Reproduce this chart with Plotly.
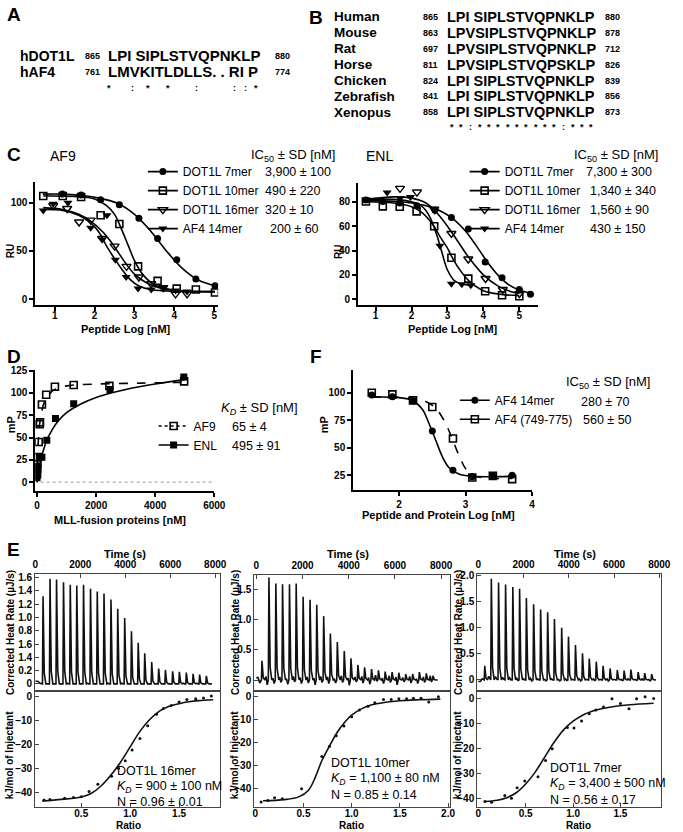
import plotly.graph_objects as go

W, H = 683, 832
ARIAL = "Liberation Sans, Arial, sans-serif"
NARROW = "Liberation Sans Narrow, Arial Narrow, Liberation Sans, sans-serif"


def px(x):
    return x / W


def py(y):
    return 1 - y / H


# --- A / B : sequence alignments ---
a_names = ["hDOT1L", "hAF4"]
a_start = ["865", "761"]
a_seq = ["LPI SIPLSTVQPNKLP", "LMVKITLDLLS. . RI P"]
a_end = ["880", "774"]
a_cons = ["*", ":", "*", "*", ":", ":", ":", "*"]
a_cons_x = [108, 132, 148, 169, 198, 237, 248, 259]

b_names = ["Human", "Mouse", "Rat", "Horse", "Chicken", "Zebrafish", "Xenopus"]
b_start = ["865", "863", "697", "811", "824", "841", "858"]
b_seq = ["LPI SIPLSTVQPNKLP", "LPVSIPLSTVQPNKLP", "LPVSIPLSTVQPNKLP", "LPVSIPLSTVQPSKLP",
         "LPI SIPLSTVQPNKLP", "LPI SIPLSTVQPNKLP", "LPI SIPLSTVQPNKLP"]
b_end = ["880", "878", "712", "826", "839", "856", "873"]
b_cons = ["*", "*", ":", "*", "*", "*", "*", "*", "*", "*", "*", "*", ":", "*", "*", "*"]

# --- C : AF9 competition (log nM vs RU) ---
af9_7_x = [1.19, 1.66, 2.15, 2.62, 3.11, 3.58, 4.06, 4.54, 5.02]
af9_7_y = [109, 108, 103, 98, 84, 63, 41, 21, 14]
af9_7_fx = [0.7, 1.2, 1.8, 2.2, 2.6, 3.0, 3.4, 3.8, 4.2, 4.6, 5.02]
af9_7_fy = [109, 109, 107, 104, 99, 88, 71, 50, 32, 20, 14]
af9_10_x = [0.71, 1.2, 1.66, 2.15, 2.62, 3.09, 3.58, 4.06, 4.54, 5.02]
af9_10_y = [107, 107, 106, 87, 78, 34, 19, 11, 10, 7]
af9_10_fx = [0.71, 1.5, 2.0, 2.3, 2.5, 2.7, 2.85, 3.0, 3.2, 3.5, 3.9, 4.5, 5.02]
af9_10_fy = [107, 106.5, 104, 97, 88, 70, 55, 40, 26, 15, 10, 8, 7.5]
af9_16_x = [0.96, 1.31, 1.61, 1.9, 2.19, 2.5, 2.8, 3.11, 3.42, 3.72, 4.03, 4.32]
af9_16_y = [97, 94, 80, 82, 63, 55, 34, 23, 16, 12, 5.5, 5.5]
af9_16_fx = [0.71, 1.2, 1.6, 1.9, 2.2, 2.4, 2.6, 2.8, 3.0, 3.3, 3.7, 4.2, 5.02]
af9_16_fy = [95, 93, 88, 81, 70, 60, 48, 36, 26, 17, 11, 8.5, 8]
af9_af4_x = [0.71, 0.96, 1.33, 1.9, 2.19, 2.31, 2.52, 2.79, 3.09, 3.42, 3.72, 4.03, 4.32]
af9_af4_y = [92, 99, 100, 74, 62, 87, 41, 23, 11, 10, 12, 9, 8]
af9_af4_fx = [0.71, 1.2, 1.6, 1.9, 2.1, 2.3, 2.5, 2.7, 2.9, 3.1, 3.4, 3.8, 4.32, 5.02]
af9_af4_fy = [93, 92, 87, 79, 70, 55, 42, 30, 20, 14, 10, 8.5, 8, 8]

# --- C : ENL competition ---
enl_7_x = [0.73, 1.2, 1.67, 2.15, 2.65, 3.11, 3.58, 4.05, 4.52, 5.0, 5.31]
enl_7_y = [81.4, 80.3, 79, 76.7, 73.2, 67.2, 57.7, 30.5, 17.7, 7.9, 4.1]
enl_7_fx = [0.73, 1.5, 2.0, 2.5, 2.9, 3.2, 3.5, 3.8, 4.1, 4.4, 4.7, 5.0, 5.31]
enl_7_fy = [81, 80.5, 79, 76, 71, 65, 56, 44, 31, 20, 12, 7.5, 5]
enl_10_x = [0.73, 1.2, 1.67, 2.14, 2.63, 3.11, 3.58, 4.05, 4.52, 5.0]
enl_10_y = [80.3, 76.2, 75.9, 72.1, 59.9, 34, 16.9, 6.5, 3.3, 2.4]
enl_10_fx = [0.73, 1.5, 2.0, 2.3, 2.6, 2.8, 3.0, 3.1, 3.3, 3.6, 4.0, 4.5, 5.0]
enl_10_fy = [80, 79, 76, 71, 61, 51, 42, 36, 26, 15, 7, 4, 3]
enl_16_x = [1.68, 2.15, 2.63, 3.11, 3.58, 4.06, 4.54, 5.0]
enl_16_y = [91, 88, 74, 54, 33, 17, 8, 4.6]
enl_16_fx = [0.73, 1.5, 2.0, 2.4, 2.7, 3.0, 3.3, 3.6, 4.0, 4.4, 4.8, 5.0]
enl_16_fy = [82, 84, 83, 79, 71, 60, 47, 34, 20, 11, 6, 5]
enl_af4_x = [1.32, 1.68, 1.97, 2.65, 2.79, 3.11, 3.4, 3.65]
enl_af4_y = [87.6, 83, 84, 72.6, 44, 12.8, 12.2, 11.4]
enl_af4_fx = [0.73, 1.5, 2.0, 2.3, 2.5, 2.7, 2.85, 3.0, 3.2, 3.4, 3.65]
enl_af4_fy = [82, 82, 80, 76, 68, 53, 38, 24, 15, 12.5, 11.5]

# --- D : direct binding (nM vs mP) ---
d_af9_x = [0, 5, 10, 20, 55, 88, 100, 165, 310, 605, 1240, 2450, 4980]
d_af9_y = [9, 15, 20, 28, 45, 65, 67, 87, 98, 107, 109, 108, 113]
d_af9_fx = [0, 20, 50, 100, 150, 250, 400, 600, 1000, 2000, 3500, 5000]
d_af9_fy = [0, 27, 50, 68, 78, 90, 98, 104, 108, 110, 111, 112]
d_enl_x = [0, 10, 20, 75, 165, 330, 625, 1240, 2470, 4970]
d_enl_y = [5, 11, 18, 28, 28, 47, 71.5, 88, 104, 118]
d_enl_fx = [0, 50, 100, 200, 330, 500, 700, 1000, 1500, 2000, 2500, 3000, 4000, 5000]
d_enl_fy = [0, 11, 20, 34, 47, 58, 68, 78, 88, 95, 100, 104, 110, 115]

# --- F : AF4 competition ---
f_14_x = [1.59, 1.9, 2.21, 2.5, 2.81, 3.1, 3.41, 3.7]
f_14_y = [97.9, 96.4, 92.4, 65.2, 29.5, 23.5, 24.4, 25]
f_14_fx = [1.59, 2.0, 2.2, 2.35, 2.45, 2.55, 2.65, 2.75, 2.9, 3.1, 3.7]
f_14_fy = [96, 95.5, 93, 85, 72, 57, 42, 32, 26, 24, 24]
f_long_x = [1.59, 1.9, 2.21, 2.5, 2.81, 3.1, 3.41, 3.7]
f_long_y = [100, 98.5, 93, 87, 58.3, 22.9, 24.4, 21.4]
f_long_fx = [1.59, 2.2, 2.4, 2.55, 2.7, 2.8, 2.9, 3.0, 3.1, 3.3, 3.7]
f_long_fy = [96, 95, 92, 86, 72, 58, 43, 31, 25, 22.5, 22]

# --- E : ITC thermograms (time s, heat rate) ---
e1_t = [320, 630, 920, 1230, 1530, 1820, 2120, 2430, 2730, 3030, 3340, 3640, 3950,
        4250, 4550, 4840, 5150, 5460, 5760, 6080, 6380, 6690, 6990, 7280, 7580]
e1_h = [1.32, 1.58, 1.57, 1.53, 1.49, 1.48, 1.49, 1.43, 1.39, 1.36, 1.27, 1.13, 0.99,
        0.79, 0.62, 0.46, 0.33, 0.23, 0.21, 0.19, 0.18, 0.17, 0.15, 0.14, 0.12]
e1_base = [0.04, 0.01, 0.0, 0.01, 0.0, 0.01, 0.0, 0.0, 0.01, 0.0, 0.0, 0.01, 0.0, 0.0, 0.01,
           0.0, 0.0, 0.01, 0.0, 0.0, 0.01, 0.0, 0.0, 0.0, 0.01, 0.0, 0.0, 0.01, 0.0, 0.0,
           0.0, 0.01, 0.0, 0.0, 0.0, 0.01, 0.0, 0.0, 0.0, 0.01, 0.0, 0.0, 0.01, 0.0, 0.0,
           0.0, 0.01, 0.0, 0.0, 0.0]
e2_t = [220, 520, 820, 1110, 1410, 1700, 2000, 2300, 2590, 2890, 3180, 3480, 3780,
        4070, 4370, 4660, 4960, 5260, 5550, 5850, 6140, 6440, 6740, 7030, 7330, 7620]
e2_h = [0.32, 1.70, 1.60, 1.59, 1.59, 1.60, 1.38, 1.33, 1.25, 1.06, 0.77, 0.63, 0.48,
        0.36, 0.25, 0.21, 0.18, 0.16, 0.14, 0.13, 0.12, 0.10, 0.10, 0.13, 0.11, 0.07]
e2_base = [0.04, -0.05, 0.06, -0.08, 0.03, -0.06, 0.05, -0.04, 0.02, -0.07,
           0.06, -0.03, 0.04, -0.06, 0.05, -0.05, 0.03, -0.08, 0.06, -0.04,
           0.05, -0.06, 0.02, -0.05, 0.07, -0.04, 0.03, -0.09, 0.05, -0.03,
           0.06, -0.05, 0.04, -0.07, 0.08, -0.02, 0.03, -0.06, 0.07, -0.04,
           0.05, -0.08, 0.04, -0.03, 0.06, -0.05, 0.02, -0.06, 0.05, -0.04,
           0.07, -0.03]
e3_t = [260, 550, 870, 1180, 1500, 1800, 2100, 2420, 2730, 3040, 3340, 3660, 3960,
        4270, 4580, 4880, 5190, 5490, 5800, 6120, 6420, 6720, 7040, 7330, 7640]
e3_h = [0.27, 1.94, 1.87, 1.83, 1.78, 1.75, 1.57, 1.45, 1.35, 1.30, 1.17, 1.00, 0.83,
        0.67, 0.51, 0.41, 0.35, 0.27, 0.22, 0.19, 0.18, 0.20, 0.15, 0.13, 0.11]
e3_base = [-0.03, 0.02, 0.07, 0.03, 0.06, 0.02, 0.05, 0.01, 0.04, 0.0,
           0.03, -0.01, 0.02, 0.0, 0.03, -0.02, 0.02, 0.0, 0.01, -0.02,
           0.02, 0.0, 0.01, -0.02, 0.02, -0.01, 0.01, 0.0, 0.02, -0.02,
           0.01, 0.0, 0.02, -0.01, 0.01, 0.0, 0.02, -0.02, 0.01, 0.0,
           0.01, -0.01, 0.02, 0.0, 0.01, -0.01, 0.02, 0.0, 0.01, -0.02]

# --- E : ITC binding isotherms (molar ratio vs kJ/mol) ---
e1_r = [0.12, 0.18, 0.33, 0.42, 0.50, 0.58, 0.67, 0.81, 0.88, 0.95, 1.02, 1.10, 1.18,
        1.27, 1.34, 1.42, 1.50, 1.58, 1.67, 1.75, 1.83]
e1_q = [-43.3, -43.0, -42.5, -42.2, -41.9, -39.7, -36.7, -33.3, -29.9, -26.8, -22.3,
        -17.5, -12.1, -7.3, -4.9, -3.6, -2.2, -1.1, -0.8, -0.5, 0.3]
e1_fr = [0.10, 0.3, 0.5, 0.6, 0.7, 0.8, 0.9, 1.0, 1.1, 1.2, 1.3, 1.4, 1.5, 1.6, 1.7, 1.85]
e1_fq = [-43.7, -43.0, -42.0, -40.5, -37.5, -33.0, -27.5, -21.0, -14.5, -9.5, -6.0,
         -4.0, -2.9, -2.1, -1.6, -1.2]
e2_r = [0.06, 0.13, 0.2, 0.28, 0.48, 0.69, 0.77, 0.84, 0.92, 1.0, 1.08, 1.17, 1.24,
        1.33, 1.41, 1.49, 1.57, 1.64, 1.72, 1.8, 1.9]
e2_q = [-46.1, -45.4, -44.2, -44.6, -40.3, -26.1, -21.7, -17.0, -12.8, -8.7, -5.8,
        -4.1, -2.6, -1.2, -1.2, -0.9, -0.9, -0.6, -0.6, -2.3, 0.0]
e2_fr = [0.08, 0.3, 0.45, 0.55, 0.62, 0.69, 0.77, 0.85, 0.93, 1.0, 1.1, 1.2, 1.35, 1.5, 1.7, 1.92]
e2_fq = [-45.5, -45.0, -43.8, -41.0, -35.5, -28.0, -21.5, -15.5, -11.0, -8.0, -5.3,
         -3.6, -2.4, -1.7, -1.3, -1.0]
e3_r = [0.07, 0.14, 0.28, 0.35, 0.41, 0.49, 0.63, 0.71, 0.78, 0.94, 1.01, 1.09, 1.17,
        1.24, 1.32, 1.41, 1.5, 1.59, 1.67, 1.76, 1.85]
e3_q = [-41.3, -41.6, -38.9, -40.0, -35.8, -33.1, -31.4, -24.8, -20.1, -11.5, -11.7,
        -8.9, -6.0, -4.5, -3.3, 0.0, -1.9, -4.0, 0.0, 0.8, 0.1]
e3_fr = [0.07, 0.2, 0.3, 0.4, 0.5, 0.6, 0.7, 0.8, 0.9, 1.0, 1.1, 1.2, 1.3, 1.45, 1.6, 1.85]
e3_fq = [-41.3, -40.8, -39.8, -37.8, -34.3, -29.5, -23.5, -17.5, -12.5, -9.0, -6.6,
         -5.0, -4.0, -3.0, -2.4, -1.8]

fig = go.Figure()

BLACK = "black"
MK = {
    "circle": dict(symbol="circle", size=7, color=BLACK),
    "square": dict(symbol="square-open", size=7, color=BLACK, line=dict(width=1.6)),
    "sqfill": dict(symbol="square", size=7, color=BLACK),
    "tri_open": dict(symbol="triangle-down-open", size=8, color=BLACK, line=dict(width=1.4)),
    "tri": dict(symbol="triangle-down", size=8, color=BLACK),
}


def curve(x, y, ax, dash="solid"):
    fig.add_trace(go.Scatter(x=x, y=y, mode="lines", line=dict(color=BLACK, width=1.6, dash=dash, shape="spline"),
                             xaxis="x" + ax, yaxis="y" + ax, showlegend=False, hoverinfo="skip"))


def points(x, y, ax, mk):
    fig.add_trace(go.Scatter(x=x, y=y, mode="markers", marker=MK[mk],
                             xaxis="x" + ax, yaxis="y" + ax, showlegend=False))


def key(name, mk, legend, ax, dash="solid"):
    fig.add_trace(go.Scatter(x=[None], y=[None], mode="lines+markers", name=name, marker=MK[mk],
                             line=dict(color=BLACK, width=1.6, dash=dash),
                             xaxis="x" + ax, yaxis="y" + ax, legend=legend))


# C left
curve(af9_7_fx, af9_7_fy, "")
curve(af9_10_fx, af9_10_fy, "")
curve(af9_16_fx, af9_16_fy, "")
curve(af9_af4_fx, af9_af4_fy, "")
points(af9_7_x, af9_7_y, "", "circle")
points(af9_10_x, af9_10_y, "", "square")
points(af9_16_x, af9_16_y, "", "tri_open")
points(af9_af4_x, af9_af4_y, "", "tri")
key("DOT1L 7mer", "circle", "legend", "")
key("DOT1L 10mer", "square", "legend", "")
key("DOT1L 16mer", "tri_open", "legend", "")
key("AF4 14mer", "tri", "legend", "")

# C right
curve(enl_7_fx, enl_7_fy, "2")
curve(enl_10_fx, enl_10_fy, "2")
curve(enl_16_fx, enl_16_fy, "2")
curve(enl_af4_fx, enl_af4_fy, "2")
points(enl_7_x, enl_7_y, "2", "circle")
points(enl_10_x, enl_10_y, "2", "square")
points(enl_16_x, enl_16_y, "2", "tri_open")
points(enl_af4_x, enl_af4_y, "2", "tri")
key("DOT1L 7mer", "circle", "legend2", "2")
key("DOT1L 10mer", "square", "legend2", "2")
key("DOT1L 16mer", "tri_open", "legend2", "2")
key("AF4 14mer", "tri", "legend2", "2")

# D
curve(d_af9_fx, d_af9_fy, "3", dash="dash")
curve(d_enl_fx, d_enl_fy, "3")
points(d_enl_x, d_enl_y, "3", "sqfill")
points(d_af9_x, d_af9_y, "3", "square")
key("AF9", "square", "legend3", "3", dash="dot")
key("ENL", "sqfill", "legend3", "3")

# F
curve(f_14_fx, f_14_fy, "4")
curve(f_long_fx, f_long_fy, "4", dash="dash")
points(f_long_x, f_long_y, "4", "square")
points(f_14_x, f_14_y, "4", "circle")
key("AF4 14mer", "circle", "legend4", "4")
key("AF4 (749-775)", "square", "legend4", "4")


# E thermograms
def thermogram(times, heights, base, t_end):
    xs, ys = [0], [base[0]]
    prev = 0
    for i, (t, h) in enumerate(zip(times, heights)):
        gap = t - prev
        xs += [prev + gap / 3, prev + 2 * gap / 3, t, t + 25, t + 80, t + 150]
        ys += [base[2 * i], base[2 * i + 1], 0, h, 0.12 * h, 0]
        prev = t + 150
    xs.append(t_end)
    ys.append(0)
    return xs, ys


for ax, (t, h, b) in zip(["5", "7", "9"], [(e1_t, e1_h, e1_base), (e2_t, e2_h, e2_base), (e3_t, e3_h, e3_base)]):
    tx, ty = thermogram(t, h, b, 7850)
    fig.add_trace(go.Scatter(x=tx, y=ty, mode="lines", line=dict(color="#111", width=1.6),
                             xaxis="x" + ax, yaxis="y" + ax, showlegend=False, hoverinfo="skip"))

for ax, (r, q, fr, fq) in zip(["6", "8", "10"], [(e1_r, e1_q, e1_fr, e1_fq), (e2_r, e2_q, e2_fr, e2_fq),
                                               (e3_r, e3_q, e3_fr, e3_fq)]):
    fig.add_trace(go.Scatter(x=fr, y=fq, mode="lines", line=dict(color="#111", width=1.6, shape="spline"),
                             xaxis="x" + ax, yaxis="y" + ax, showlegend=False, hoverinfo="skip"))
    fig.add_trace(go.Scatter(x=r, y=q, mode="markers", marker=dict(size=3, color="#111"),
                             xaxis="x" + ax, yaxis="y" + ax, showlegend=False))

# --- axes ---
TICKF = dict(family=NARROW, size=10, color=BLACK, weight="bold")
ITCF = dict(family=ARIAL, size=10, color=BLACK, weight="bold")


def prism(dom, rng, anchor, **kw):
    d = dict(domain=dom, range=rng, anchor=anchor, showline=True, linewidth=1.8, linecolor=BLACK,
             ticks="outside", ticklen=4, tickwidth=1.5, tickcolor=BLACK, tickfont=TICKF,
             showgrid=False, zeroline=False)
    d.update(kw)
    return d


def itc(dom, rng, anchor, **kw):
    d = dict(domain=dom, range=rng, anchor=anchor, showline=True, mirror=True, linewidth=1.2,
             linecolor="#444", ticks="inside", ticklen=4, tickwidth=1, tickcolor="#444",
             tickfont=ITCF, showgrid=False, zeroline=False)
    d.update(kw)
    return d


BOT = 807  # bottom edge of the ITC isotherm boxes (px)

layout_axes = dict(
    xaxis=prism([px(33), px(220)], [0.51, 5.1], "y", tickvals=[1, 2, 3, 4, 5], ticklabelstandoff=-4),
    yaxis=prism([py(302), py(178)], [-6.2, 121.6], "x", tickvals=[0, 50, 100]),
    xaxis2=prism([px(363), px(547)], [0.51, 5.52], "y2", tickvals=[1, 2, 3, 4, 5], ticklabelstandoff=-4),
    yaxis2=prism([py(302), py(179)], [-4.9, 95.5], "x2", tickvals=[0, 20, 40, 60, 80]),
    xaxis3=prism([px(33), px(216)], [-60, 6000], "y3", tickvals=[0, 2000, 4000, 6000]),
    yaxis3=prism([py(489), py(367)], [-10, 126], "x3", tickvals=[0, 25, 50, 75, 100, 125]),
    xaxis4=prism([px(358), px(541)], [1.31, 4.0], "y4", tickvals=[2, 3, 4]),
    yaxis4=prism([py(488), py(367)], [11.5, 120.8], "x4", tickvals=[25, 50, 75, 100]),
    # E left
    xaxis5=itc([px(33), px(222)], [0, 8217], "y5", side="top", tickvals=[0, 2000, 4000, 6000, 8000]),
    yaxis5=itc([py(690), py(572)], [-0.105, 1.66], "x5",
               tickvals=[0, 0.2, 0.4, 0.6, 0.8, 1.0, 1.2, 1.4, 1.6],
               ticktext=["0", "0.2", "1.4", "1.6", "0.8", "1.0", "1.2", "1.4", "1.6"]),
    xaxis6=itc([px(33), px(222)], [0.03, 1.92], "y6", tickvals=[0.5, 1.0, 1.5],
               ticktext=["0.5", "1.0", "1.5"], ticklabelstandoff=-3),
    yaxis6=itc([py(BOT), py(690)], [-46.25, 2.5], "x6", tickvals=[0, -10, -20, -30, -40]),
    # E middle
    xaxis7=itc([px(257), px(457)], [-85, 8380], "y7", side="top", tickvals=[0, 2000, 4000, 6000, 8000]),
    yaxis7=itc([py(690), py(573)], [-0.18, 1.75], "x7", tickvals=[0, 0.5, 1.0, 1.5],
               ticktext=["0", "0.5", "1.0", "1.5"]),
    xaxis8=itc([px(257), px(457)], [-0.01, 2.02], "y8", tickvals=[0, 0.5, 1.0, 1.5, 2.0],
               ticktext=["0", "0.5", "1.0", "1.5", "2.0"], ticklabelstandoff=-3),
    yaxis8=itc([py(BOT), py(690)], [-48.3, 2.6], "x8", tickvals=[0, -10, -20, -30, -40]),
    # E right
    xaxis9=itc([px(485), px(673)], [-43, 8086], "y9", side="top", tickvals=[0, 2000, 4000, 6000, 8000]),
    yaxis9=itc([py(690), py(572)], [-0.21, 2.04], "x9", tickvals=[0, 0.5, 1.0, 1.5, 2.0],
               ticktext=["0", "0.5", "1.0", "1.5", "2.0"]),
    xaxis10=itc([px(485), px(673)], [-0.01, 1.93], "y10", tickvals=[0, 0.5, 1.0, 1.5],
                ticktext=["0", "0.5", "1.0", "1.5"], ticklabelstandoff=-3),
    yaxis10=itc([py(BOT), py(690)], [-43.6, 3.2], "x10", tickvals=[0, -10, -20, -30, -40]),
)

LEG = dict(bgcolor="rgba(0,0,0,0)", font=dict(family=ARIAL, size=12, color=BLACK), itemwidth=30,
           xanchor="left", yanchor="top", tracegroupgap=0)

fig.update_layout(
    width=W, height=H, margin=dict(l=0, r=0, t=0, b=0),
    paper_bgcolor="white", plot_bgcolor="white",
    font=dict(family=ARIAL, color=BLACK),
    legend=dict(LEG, x=px(143), y=py(153)),
    legend2=dict(LEG, x=px(472), y=py(153)),
    legend3=dict(LEG, x=px(154), y=py(409)),
    legend4=dict(LEG, x=px(462), y=py(383)),
    **layout_axes,
)

fig.add_shape(type="line", xref="x3 domain", yref="y3", x0=0.03, x1=1, y0=0, y1=0,
              line=dict(color="#999", width=1, dash="dot"))

ann = []


def text(x, y, s, size=13, family=ARIAL, anchor="left", angle=0, bold=False, color=BLACK):
    ann.append(dict(x=px(x), y=py(y), xref="paper", yref="paper", text=s, showarrow=False,
                    xanchor=anchor, yanchor="middle", textangle=angle, borderpad=0,
                    font=dict(family=family, size=size, color=color, weight="bold" if bold else "normal")))


# panel letters
for letter, lx, ly in [("A", 3, 10), ("B", 312, 13), ("C", 3, 150), ("D", 3, 354), ("F", 313, 354), ("E", 3, 548)]:
    text(lx, ly, letter, size=19, bold=True)

# A
for i, yy in enumerate([51, 67]):
    text(16, yy, a_names[i], size=14, bold=True)
    text(83, yy, a_start[i], size=9, bold=True, family=NARROW)
    text(106, yy, a_seq[i], size=15, bold=True)
    text(277, yy, a_end[i], size=9, bold=True, family=NARROW)
for s, xx in zip(a_cons, a_cons_x):
    text(xx, 83, s, size=9, bold=True, anchor="center")

# B
for i, yy in enumerate([12, 28, 44, 60, 76, 92, 108]):
    text(337, yy, b_names[i], size=13.5, bold=True)
    text(428, yy, b_start[i], size=9, bold=True, family=NARROW)
    text(453, yy, b_seq[i], size=14.5, bold=True)
    text(614, yy, b_end[i], size=9, bold=True, family=NARROW)
for i, s in enumerate(b_cons):
    text(459 + 9.5 * i, 123, s, size=9, bold=True, anchor="center")

# C  (value rows follow the legend rows)
rows_c = [168, 187, 206, 225]
text(47, 152, "AF9", size=14)
text(370, 152, "ENL", size=14)
text(253, 151, "IC<sub>50</sub> ± SD [nM]", size=13)
text(583, 151, "IC<sub>50</sub> ± SD [nM]", size=13)
for s, xx, yy in zip(["3,900 ± 100", "490 ± 220", "320 ± 10", "200 ± 60"], [267, 267, 267, 272], rows_c):
    text(xx, yy, s, size=12.5)
for s, xx, yy in zip(["7,300 ± 300", "1,340 ± 340", "1,560 ± 90", "430 ± 150"], [595, 599, 599, 599], rows_c):
    text(xx, yy, s, size=12.5)
text(8, 248, "RU", size=10, bold=True, family=NARROW, anchor="center", angle=-90)
text(343, 248, "RU", size=10, bold=True, family=NARROW, anchor="center", angle=-90)
text(126, 326, "Peptide Log [nM]", size=11, bold=True, family=NARROW, anchor="center")
text(460, 326, "Peptide Log [nM]", size=11, bold=True, family=NARROW, anchor="center")

# D
text(222, 406, "<i>K</i><sub><i>D</i></sub> ± SD [nM]", size=13)
text(233, 425, "65 ± 4", size=12.5)
text(233, 444, "495 ± 91", size=12.5)
text(9, 422, "mP", size=11, bold=True, family=NARROW, anchor="center", angle=-90)
text(120, 518, "MLL-fusion proteins [nM]", size=11, bold=True, family=NARROW, anchor="center")

# F
text(575, 380, "IC<sub>50</sub> ± SD [nM]", size=13)
text(590, 399, "280 ± 70", size=12.5)
text(592, 418, "560 ± 50", size=12.5)
text(329, 422, "mP", size=11, bold=True, family=NARROW, anchor="center", angle=-90)
text(445, 513, "Peptide and Protein Log [nM]", size=11, bold=True, family=NARROW, anchor="center")

# E
for cx, lx in [(125, 7), (353, 237), (585, 465)]:
    text(cx, 552, "Time (s)", size=11, bold=True, anchor="center")
    text(cx + 3, 825, "Ratio", size=10, bold=True, anchor="center")
    text(lx, 631, "Corrected Heat Rate (µJ/s)", size=10, bold=True, family=NARROW, anchor="center", angle=-90)
    text(lx, 755, "kJ/mol of Injectant", size=10, bold=True, family=NARROW, anchor="center", angle=-90)

for lx, ys, lines in [
    (116, [771, 787, 802], ["DOT1L 16mer", "<i>K</i><sub><i>D</i></sub> = 900 ± 100 nM", "N = 0.96 ± 0.01"]),
    (334, [763, 779, 795], ["DOT1L 10mer", "<i>K</i><sub><i>D</i></sub> = 1,100 ± 80 nM", "N = 0.85 ± 0.14"]),
    (558, [768, 784, 800], ["DOT1L 7mer", "<i>K</i><sub><i>D</i></sub> = 3,400 ± 500 nM", "N = 0.56 ± 0.17"]),
]:
    for yy, s in zip(ys, lines):
        text(lx, yy, s, size=12.5)

fig.update_layout(annotations=ann)

# the page body keeps the browser's default 8px margin otherwise, which pushes the figure off-frame
fig.write_html("out.html", config={"displayModeBar": False},
               post_script="document.body.style.margin='0';")
